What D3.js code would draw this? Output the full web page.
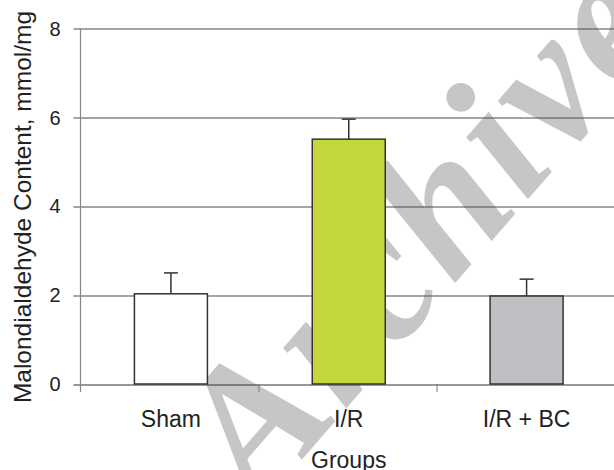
<!DOCTYPE html>
<html>
<head>
<meta charset="utf-8">
<script src="https://cdn.jsdelivr.net/npm/d3@7"></script>
<style>
  body { margin: 0; background: #fff; }
  text { font-family: "Liberation Sans", Arial, sans-serif; fill: #222; }
</style>
</head>
<body>
<div id="chart"></div>
<script>
// data
var groups = ["Sham", "I/R", "I/R + BC"];
var means = [2.03, 5.51, 1.98];
var errors = [0.47, 0.45, 0.38];
var colors = ["#ffffff", "#c4d83e", "#bfc0c3"];
var yTicks = [0, 2, 4, 6, 8];

var W = 614, H = 470;
var margin = {top: 28.5, right: 0, bottom: 86, left: 80.5},
    width = W - margin.left - margin.right,
    height = H - margin.top - margin.bottom;

var svg = d3.select("#chart")
  .append("svg")
    .attr("width", W)
    .attr("height", H);

// watermark sits behind everything
svg.append("text")
  .attr("transform", "translate(258,510) rotate(-49)")
  .style("font-family", "'Liberation Serif', 'Times New Roman', serif")
  .style("font-style", "italic")
  .style("font-weight", "bold")
  .style("font-size", "190px")
  .style("letter-spacing", "4px")
  .style("fill", "#c6c6c6")
  .text("Archive");

var g = svg.append("g")
  .attr("transform", "translate(" + margin.left + "," + margin.top + ")");

var y = d3.scaleLinear()
  .domain([0, 8])
  .range([height, 0]);

var x = d3.scaleBand()
  .domain(groups)
  .range([0, width])
  .padding(0);

// gridlines + y ticks
g.selectAll(".grid")
  .data(yTicks)
  .enter()
  .append("line")
    .attr("x1", -7)
    .attr("x2", width)
    .attr("y1", function(d) { return Math.round(y(d)) + 0.5; })
    .attr("y2", function(d) { return Math.round(y(d)) + 0.5; })
    .attr("stroke", function(d) { return d === 0 ? "#333" : "#4a4a4a"; })
    .attr("stroke-width", 1.2);

g.selectAll(".ylab")
  .data(yTicks)
  .enter()
  .append("text")
    .attr("x", -20)
    .attr("y", function(d) { return y(d); })
    .attr("dy", "0.36em")
    .attr("text-anchor", "end")
    .style("font-size", "20px")
    .text(function(d) { return d; });

// y axis line
g.append("line")
  .attr("x1", 0).attr("x2", 0)
  .attr("y1", 0).attr("y2", height + 8)
  .attr("stroke", "#888")
  .attr("stroke-width", 1.2);

// category separator ticks
g.selectAll(".xtick")
  .data(groups.slice(1))
  .enter()
  .append("line")
    .attr("x1", function(d) { return Math.round(x(d)) + 0.5; })
    .attr("x2", function(d) { return Math.round(x(d)) + 0.5; })
    .attr("y1", height)
    .attr("y2", height + 8)
    .attr("stroke", "#777")
    .attr("stroke-width", 1);

var barW = 73;

// error bars
var eb = g.selectAll(".err")
  .data(groups)
  .enter()
  .append("g")
    .attr("transform", function(d) { return "translate(" + (x(d) + x.bandwidth() / 2 + 1.5) + ",0)"; });

eb.append("line")
  .attr("y1", function(d, i) { return y(means[i]); })
  .attr("y2", function(d, i) { return y(means[i] + errors[i]); })
  .attr("stroke", "#333")
  .attr("stroke-width", 1.5);

eb.append("line")
  .attr("x1", -7).attr("x2", 7)
  .attr("y1", function(d, i) { return y(means[i] + errors[i]); })
  .attr("y2", function(d, i) { return y(means[i] + errors[i]); })
  .attr("stroke", "#333")
  .attr("stroke-width", 1.5);

// bars
g.selectAll(".bar")
  .data(groups)
  .enter()
  .append("rect")
    .attr("x", function(d) { return x(d) + x.bandwidth() / 2 + 1.5 - barW / 2; })
    .attr("y", function(d, i) { return y(means[i]); })
    .attr("width", barW)
    .attr("height", function(d, i) { return height - y(means[i]); })
    .attr("fill", function(d, i) { return colors[i]; })
    .attr("stroke", "#333")
    .attr("stroke-width", 1.5);

// x labels
g.selectAll(".xlab")
  .data(groups)
  .enter()
  .append("text")
    .attr("x", function(d) { return x(d) + x.bandwidth() / 2 + 1.5; })
    .attr("y", 427 - margin.top)
    .attr("text-anchor", "middle")
    .style("font-size", "23px")
    .text(function(d) { return d; });

// axis titles
svg.append("text")
  .attr("x", margin.left + x("I/R") + x.bandwidth() / 2 + 1.5)
  .attr("y", 468)
  .attr("text-anchor", "middle")
  .style("font-size", "23px")
  .text("Groups");

svg.append("text")
  .attr("transform", "translate(31,207) rotate(-90)")
  .attr("text-anchor", "middle")
  .style("font-size", "24.5px")
  .text("Malondialdehyde Content, mmol/mg");
</script>
</body>
</html>
